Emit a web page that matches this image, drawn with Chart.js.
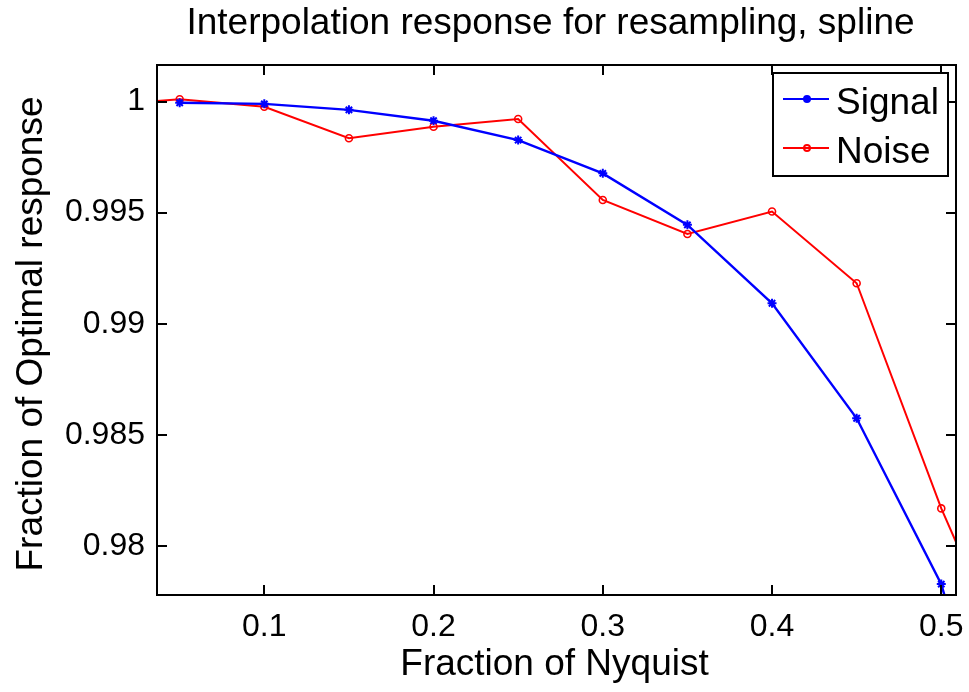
<!DOCTYPE html>
<html>
<head>
<meta charset="utf-8">
<script src="https://cdn.jsdelivr.net/npm/chart.js@4.4.0/dist/chart.umd.min.js"></script>
<style>
  html, body { margin: 0; padding: 0; background: #fff; }
  #plot { display: block; }
</style>
</head>
<body>
<canvas id="plot" width="969" height="692"></canvas>
<script>
// x positions (fraction of Nyquist)
const signalX = [0.05, 0.1, 0.15, 0.2, 0.25, 0.3, 0.35, 0.4, 0.45, 0.5, 0.55];
const noiseX  = [0.0, 0.05, 0.1, 0.15, 0.2, 0.25, 0.3, 0.35, 0.4, 0.45, 0.5, 0.55];

// fraction of optimal response (last / first points fall outside the axes)
const signal = [0.99995, 0.99990, 0.99963, 0.99914, 0.99827, 0.99677, 0.99445, 0.99092, 0.98574, 0.97827, 0.9650];
const noise  = [0.99980, 1.00011, 0.99977, 0.99835, 0.99887, 0.99922, 0.99557, 0.99404, 0.99505, 0.99182, 0.98168, 0.9730];

const xTicks = [0.1, 0.2, 0.3, 0.4, 0.5];
const yTicks = [0.98, 0.985, 0.99, 0.995, 1];

const titleText = 'Interpolation response for resampling, spline';
const xLabel = 'Fraction of Nyquist';
const yLabel = 'Fraction of Optimal response';

const FONT = '"Liberation Sans", Arial, Helvetica, sans-serif';

function toPoints(xs, ys) {
    return xs.map((x, i) => ({x: x, y: ys[i]}));
}

// box, inward ticks, titles and legend, drawn the matlab way
const matlabAxes = {
    id: 'matlabAxes',
    afterDatasetsDraw(chart) {
        const {ctx, chartArea: a, scales} = chart;
        const cx = (a.left + a.right) / 2;
        ctx.save();
        ctx.strokeStyle = '#000';
        ctx.lineWidth = 2;
        ctx.strokeRect(a.left, a.top, a.right - a.left, a.bottom - a.top);
        const tl = 10;
        ctx.beginPath();
        xTicks.forEach(v => {
            const px = Math.round(scales.x.getPixelForValue(v));
            ctx.moveTo(px, a.bottom); ctx.lineTo(px, a.bottom - tl);
            ctx.moveTo(px, a.top); ctx.lineTo(px, a.top + tl);
        });
        yTicks.forEach(v => {
            const py = Math.round(scales.y.getPixelForValue(v));
            ctx.moveTo(a.left, py); ctx.lineTo(a.left + tl, py);
            ctx.moveTo(a.right, py); ctx.lineTo(a.right - tl, py);
        });
        ctx.stroke();

        // titles
        ctx.fillStyle = '#000';
        ctx.font = '37px ' + FONT;
        ctx.textAlign = 'center';
        ctx.textBaseline = 'alphabetic';
        ctx.fillText(titleText, cx - 6, 34);
        ctx.fillText(xLabel, cx - 2, 675);
        ctx.save();
        ctx.translate(42, (a.top + a.bottom) / 2 + 4);
        ctx.rotate(-Math.PI / 2);
        ctx.fillText(yLabel, 0, 0);
        ctx.restore();

        // legend
        const bw = 175, bh = 103;
        const bx = a.right - 8 - bw, by = a.top + 8;
        ctx.fillStyle = '#fff';
        ctx.fillRect(bx, by, bw, bh);
        ctx.strokeStyle = '#000';
        ctx.lineWidth = 2;
        ctx.strokeRect(bx, by, bw, bh);
        chart.data.datasets.forEach((ds, i) => {
            const yy = by + 26 + i * 49;
            ctx.strokeStyle = ds.borderColor;
            ctx.lineWidth = 2;
            ctx.beginPath();
            ctx.moveTo(bx + 10, yy); ctx.lineTo(bx + 56, yy);
            ctx.stroke();
            ctx.beginPath();
            ctx.arc(bx + 34, yy, 3, 0, Math.PI * 2);
            if (i === 0) { ctx.fillStyle = ds.borderColor; ctx.fill(); }
            ctx.stroke();
            ctx.fillStyle = '#000';
            ctx.font = '37px ' + FONT;
            ctx.textAlign = 'left';
            ctx.fillText(ds.label, bx + 63, yy + 15);
        });
        ctx.restore();
    }
};

let ctx = document.getElementById('plot');
var responsePlot = new Chart(ctx, {
    type: 'scatter',
    data: {
        datasets: [{
            label: 'Signal',
            data: toPoints(signalX, signal),
            showLine: true,
            borderColor: '#0000ff',
            backgroundColor: '#0000ff',
            borderWidth: 2.4,
            pointStyle: 'star',
            pointRadius: 4.5,
            pointBorderWidth: 2,
            tension: 0,
        }, {
            label: 'Noise',
            data: toPoints(noiseX, noise),
            showLine: true,
            borderColor: '#ff0000',
            backgroundColor: 'rgba(0,0,0,0)',
            borderWidth: 2,
            pointStyle: 'circle',
            pointRadius: 3.5,
            pointBorderWidth: 1.6,
            tension: 0,
        }],
    },
    options: {
        responsive: false,
        animation: false,
        layout: { padding: { top: 65, right: 13, left: 0, bottom: 0 } },
        plugins: {
            legend: { display: false },
            tooltip: { enabled: false },
        },
        scales: {
            x: {
                type: 'linear',
                min: 0.0366,
                max: 0.5087,
                afterBuildTicks: s => { s.ticks = xTicks.map(v => ({value: v})); },
                afterFit: s => { s.height = 97; s.paddingLeft = 0; s.paddingRight = 0; },
                grid: { display: false, drawTicks: false },
                border: { display: false },
                ticks: {
                    color: '#000',
                    font: { family: FONT, size: 32 },
                    padding: 13,
                    autoSkip: false,
                    maxRotation: 0,
                    callback: v => String(v),
                },
            },
            y: {
                min: 0.97778,
                max: 1.00165,
                afterBuildTicks: s => { s.ticks = yTicks.map(v => ({value: v})); },
                afterFit: s => { s.width = 157; s.paddingTop = 0; s.paddingBottom = 0; },
                grid: { display: false, drawTicks: false },
                border: { display: false },
                ticks: {
                    color: '#000',
                    font: { family: FONT, size: 32 },
                    padding: 12,
                    autoSkip: false,
                    callback: v => String(v),
                },
            },
        },
    },
    plugins: [matlabAxes],
});
</script>
</body>
</html>
